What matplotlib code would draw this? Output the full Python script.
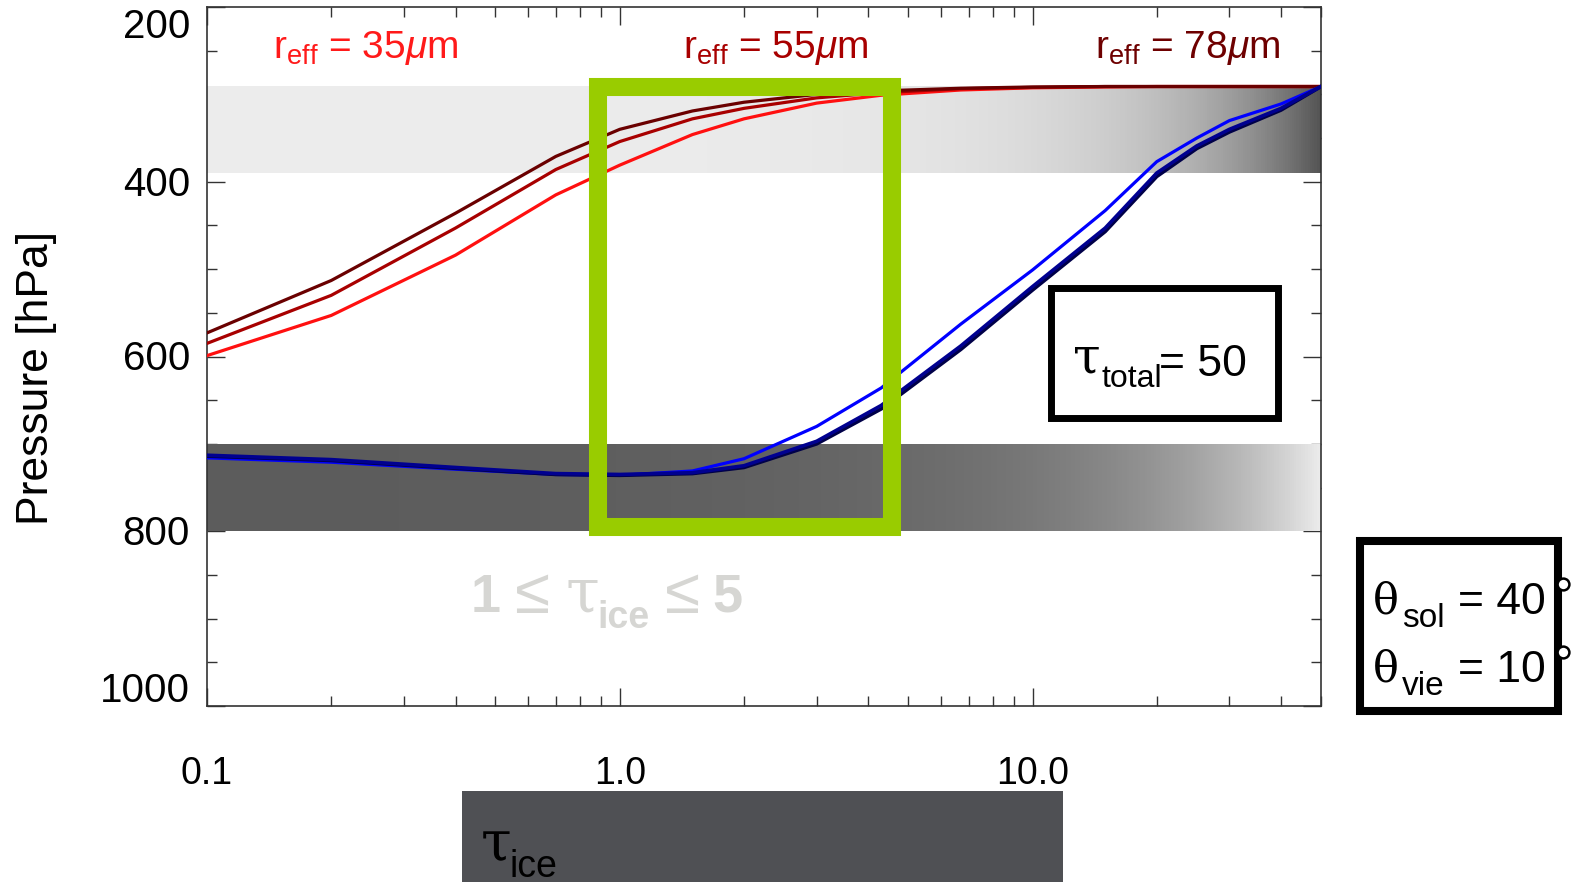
import numpy as np
import matplotlib
matplotlib.use("Agg")
import matplotlib.pyplot as plt
from matplotlib.patches import Rectangle
from matplotlib.lines import Line2D
from matplotlib.ticker import MultipleLocator, NullFormatter, LogLocator

plt.rcParams['font.family'] = ['Liberation Sans', 'DejaVu Sans']
plt.rcParams['mathtext.fontset'] = 'custom'
plt.rcParams['mathtext.rm'] = 'DejaVu Serif'
plt.rcParams['mathtext.sf'] = 'Liberation Sans'
plt.rcParams['mathtext.it'] = 'Liberation Sans:italic'
plt.rcParams['mathtext.bf'] = 'Liberation Sans:bold'

# ---------------- data ----------------
tau_ice = [0.1, 0.2, 0.4, 0.7, 1.0, 1.5, 2.0, 3.0, 4.3, 6.7, 10, 15, 20, 25, 30, 40, 50]

p_ice_35 = [599, 553, 484, 415, 381, 346, 328, 310, 301, 295, 292.5, 291.5, 291, 291, 291, 291, 291]
p_ice_55 = [585, 530, 453, 386, 354, 328, 316, 304, 298, 293.5, 292, 291, 291, 291, 291, 291, 291]
p_ice_78 = [573, 513, 436, 371, 340, 319, 309, 300, 296, 293, 291.5, 291, 291, 291, 291, 291, 291]

p_liq_35 = [716, 721, 729, 735, 736, 731, 717, 680, 636, 563, 501, 433, 377, 350, 330, 311, 291]
p_liq_55 = [713, 718, 727, 734, 735, 733, 725, 697, 656, 588, 520, 453, 390, 359, 340, 316, 291]
p_liq_78 = [714, 719, 728, 735, 736, 734, 727, 700, 660, 592, 524, 457, 394, 362, 343, 318, 291]

reff_labels = [r'$\mathsf{r}_{\mathsf{eff}}$ = 35$\mu$m',
               r'$\mathsf{r}_{\mathsf{eff}}$ = 55$\mu$m',
               r'$\mathsf{r}_{\mathsf{eff}}$ = 78$\mu$m']

ice_layer = [290, 390]      # hPa
liq_layer = [700, 800]      # hPa
tau_total = 50
theta_sol = 40
theta_vie = 10

xticks = [0.1, 1.0, 10.0]
xticklabels = ['0.1', '1.0', '10.0']
yticks = [200, 400, 600, 800, 1000]
yticklabels = ['200', '400', '600', '800', '1000']

sel_range = [0.884, 4.56]    # tau range highlighted (green box)
sel_p = [292, 795]

# ---------------- figure ----------------
W, H = 1575, 882
fig = plt.figure(figsize=(W / 100, H / 100), dpi=100)
fig.patch.set_facecolor('white')

def fx(px):
    return px / W

def fy(py):
    return 1 - py / H

SERIF = 'DejaVu Serif'
SANS = 'Liberation Sans'

ax_l, ax_r, ax_t, ax_b = 207, 1321, 7, 706
ax = fig.add_axes([fx(ax_l), fy(ax_b), (ax_r - ax_l) / W, (ax_b - ax_t) / H])
ax.set_xscale('log')
ax.set_xlim(0.1, 50)
ax.set_ylim(1000, 200)
ax.set_axisbelow(True)

# gradient layers
xe = np.logspace(-1, np.log10(50), 500)
xc = np.sqrt(xe[:-1] * xe[1:])
frac = xc / tau_total
ice_gray = 0.925 - 0.60 * frac ** 1.3
liq_gray = 0.36 + 0.565 * frac
ax.pcolormesh(xe, ice_layer, ice_gray[None, :], cmap='gray', vmin=0, vmax=1,
              shading='flat', zorder=1)
ax.pcolormesh(xe, liq_layer, liq_gray[None, :], cmap='gray', vmin=0, vmax=1,
              shading='flat', zorder=1)

# curves
ax.plot(tau_ice, p_ice_35, color='#ff1010', lw=2.3, zorder=3)
ax.plot(tau_ice, p_ice_55, color='#a80000', lw=2.3, zorder=3)
ax.plot(tau_ice, p_ice_78, color='#6a0000', lw=2.3, zorder=3)
ax.plot(tau_ice, p_liq_35, color='#0000ff', lw=2.3, zorder=3)
ax.plot(tau_ice, p_liq_78, color='#000048', lw=2.6, zorder=3)
ax.plot(tau_ice, p_liq_55, color='#000090', lw=2.6, zorder=3)

# axes styling
for s in ax.spines.values():
    s.set_linewidth(1.2)
    s.set_color('#333333')
ax.set_xticks(xticks)
ax.set_xticklabels(xticklabels)
ax.xaxis.set_minor_locator(LogLocator(base=10, subs=np.arange(2, 10)))
ax.xaxis.set_minor_formatter(NullFormatter())
ax.set_yticks(yticks)
ax.set_yticklabels([''] * len(yticks))
ax.yaxis.set_minor_locator(MultipleLocator(50))
ax.tick_params(which='both', direction='in', top=True, right=True,
               color='#333333', width=1.0)
ax.tick_params(which='major', length=13)
ax.tick_params(which='minor', length=7)
ax.tick_params(axis='x', which='major', pad=36, labelsize=27)

# y tick labels (placed manually to mimic the original offsets)
offs = {200: -20, 1000: 15}
for v, lab in zip(yticks, yticklabels):
    ax.annotate(lab, xy=(0, v), xycoords=('axes fraction', 'data'),
                xytext=(-17, offs.get(v, -3)), textcoords='offset pixels',
                ha='right', va='center', fontsize=29)

fig.text(fx(37), fy(378), 'Pressure [hPa]', rotation=90, ha='center', va='center',
         fontsize=32)

# r_eff labels
for (cx, col, lab) in zip([366, 776, 1188], ['#ff1a1a', '#a80000', '#6e0000'], reff_labels):
    fig.text(fx(cx), fy(58), lab, color=col, fontsize=28, ha='center', va='baseline')

# green selection box
ax.add_patch(Rectangle((sel_range[0], sel_p[0]), sel_range[1] - sel_range[0],
                       sel_p[1] - sel_p[0],
                       fill=False, ec='#99cc00', lw=13, joinstyle='miter',
                       clip_on=False, zorder=6))

def piece(x, y, s, size, family=SANS, **kw):
    fig.text(fx(x), fy(y), s, fontsize=size, family=family, ha='left',
             va='baseline', **kw)

# 1 <= tau_ice <= 5 (light grey annotation)
g = '#d6d6d3'
piece(471, 612, '1', 39, weight='bold', color=g)
piece(514, 613, '≤', 46, color=g)
piece(565, 613, 'τ', 44, family=SERIF, color=g)
piece(597, 628, 'ice', 27, weight='bold', color=g)
piece(664, 613, '≤', 46, color=g)
piece(712, 612, '5', 39, weight='bold', color=g)

# tau_total box
fig.add_artist(Rectangle((fx(1051), fy(418)), (1278 - 1051) / W, (418 - 288) / H,
                         transform=fig.transFigure, fill=False, ec='black', lw=5,
                         joinstyle='miter'))
piece(1073, 372, 'τ', 36, family=SERIF)
piece(1102, 387, 'total', 23)
piece(1159, 376, '= %d' % tau_total, 32)

# angle box
fig.add_artist(Rectangle((fx(1360), fy(711)), (1558 - 1360) / W, (711 - 541) / H,
                         transform=fig.transFigure, fill=False, ec='black', lw=5.8,
                         joinstyle='miter'))
for yb, sub, val in [(614, 'sol', theta_sol), (682, 'vie', theta_vie)]:
    piece(1373, yb, 'θ', 31, family=SERIF)
    piece(1402, yb + 13, sub, 24)
    piece(1458, yb, '= %d' % val, 32)
    # degree sign (small ring sitting on the box border)
    fig.add_artist(Line2D([fx(1563)], [fy(yb - 30)], marker='o', ms=8.5,
                          mfc='white', mec='black', mew=1.8, ls='none',
                          transform=fig.transFigure, zorder=10))

# x-axis title bar
fig.add_artist(Rectangle((fx(462), 0), (1063 - 462) / W, (882 - 791) / H,
                         transform=fig.transFigure, color='#4f5054', lw=0))
piece(481, 861, 'τ', 40, family=SERIF, color='black')
piece(510, 877, 'ice', 27, color='black')

fig.savefig('out.png', dpi=100, facecolor='white')
